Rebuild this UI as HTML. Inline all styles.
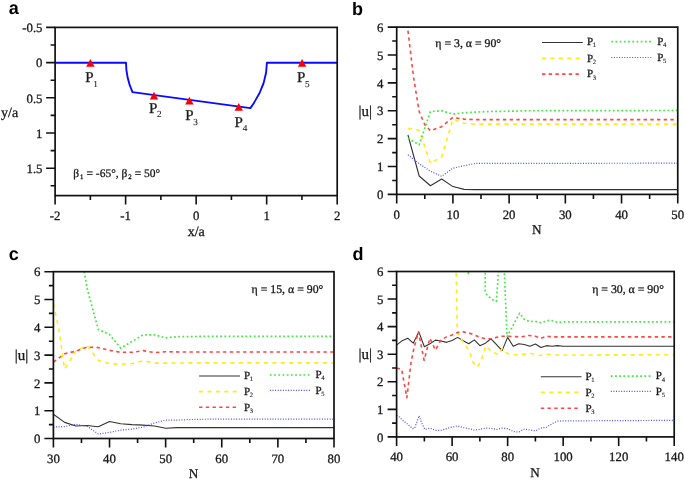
<!DOCTYPE html>
<html><head><meta charset="utf-8"><style>
html,body{margin:0;padding:0;background:#fff;}
svg{display:block;will-change:transform;}
text{text-rendering:geometricPrecision;}
text.pl{font-family:"Liberation Sans",sans-serif;font-weight:bold;fill:#000;}
text{font-family:"Liberation Serif", serif;fill:#1a1a1a;stroke:#1a1a1a;stroke-width:0.3px;}
text.pl{stroke:none;}
tspan.sb{stroke-width:0.1px;}
</style></head><body>
<svg width="685" height="480" viewBox="0 0 685 480">
<rect width="685" height="480" fill="#fff"/>
<clipPath id="ca"><rect x="55.1" y="27.4" width="282.1" height="168.2"/></clipPath>
<clipPath id="cb"><rect x="396.7" y="27.1" width="281.05" height="167.3"/></clipPath>
<clipPath id="cc"><rect x="53.4" y="271.7" width="280.6" height="166.8"/></clipPath>
<clipPath id="cd"><rect x="396.6" y="271.5" width="277.6" height="165.4"/></clipPath>
<text x="8.8" y="14.4" class="pl" font-size="18">a</text>
<path d="M55.25 62.7H126Q126 77.4 132.5 92.1L250.4 108.1Q266.9 85.4 266.9 62.7H337.25" fill="none" stroke="#0a0aff" stroke-width="1.9" stroke-linejoin="round" clip-path="url(#ca)"/>
<rect x="55.1" y="27.4" width="282.1" height="168.2" fill="none" stroke="#111" stroke-width="1.7"/>
<path d="M55.1 195.6v9M125.62 195.6v9M196.15 195.6v9M266.68 195.6v9M337.2 195.6v9M90.36 195.6v4.5M160.89 195.6v4.5M231.41 195.6v4.5M301.94 195.6v4.5" stroke="#111" stroke-width="1.6" fill="none"/>
<text x="55.1" y="220" text-anchor="middle" font-size="12.8">-2</text>
<text x="125.62" y="220" text-anchor="middle" font-size="12.8">-1</text>
<text x="196.15" y="220" text-anchor="middle" font-size="12.8">0</text>
<text x="266.68" y="220" text-anchor="middle" font-size="12.8">1</text>
<text x="337.2" y="220" text-anchor="middle" font-size="12.8">2</text>
<path d="M55.1 27.4h-9M55.1 62.6h-9M55.1 97.8h-9M55.1 133h-9M55.1 168.2h-9M55.1 45h-4.5M55.1 80.2h-4.5M55.1 115.4h-4.5M55.1 150.6h-4.5M55.1 185.8h-4.5" stroke="#111" stroke-width="1.6" fill="none"/>
<text x="42.5" y="32.1" text-anchor="end" font-size="12.8">-0.5</text>
<text x="42.5" y="67.3" text-anchor="end" font-size="12.8">0</text>
<text x="42.5" y="102.5" text-anchor="end" font-size="12.8">0.5</text>
<text x="42.5" y="137.7" text-anchor="end" font-size="12.8">1</text>
<text x="42.5" y="172.9" text-anchor="end" font-size="12.8">1.5</text>
<path d="M90.4 59L94.6 66.8L86.2 66.8Z" fill="#ff0000"/>
<path d="M154 91.8L158.2 99.6L149.8 99.6Z" fill="#ff0000"/>
<path d="M189.4 96.7L193.6 104.5L185.2 104.5Z" fill="#ff0000"/>
<path d="M238.75 102.9L242.95 110.7L234.55 110.7Z" fill="#ff0000"/>
<path d="M302.1 59L306.3 66.8L297.9 66.8Z" fill="#ff0000"/>
<text x="85.3" y="82.2" font-size="15">P<tspan class="sb" font-size="9.2" dx="-0.3" dy="4.4">1</tspan></text>
<text x="149" y="112.5" font-size="15">P<tspan class="sb" font-size="9.2" dx="-0.3" dy="4.4">2</tspan></text>
<text x="185.2" y="120.3" font-size="15">P<tspan class="sb" font-size="9.2" dx="-0.3" dy="4.4">3</tspan></text>
<text x="234.6" y="126.8" font-size="15">P<tspan class="sb" font-size="9.2" dx="-0.3" dy="4.4">4</tspan></text>
<text x="297" y="82.2" font-size="15">P<tspan class="sb" font-size="9.2" dx="-0.3" dy="4.4">5</tspan></text>
<text x="196.25" y="235.6" text-anchor="middle" font-size="14">x/a</text>
<text x="1" y="117" font-size="14">y/a</text>
<text x="73.2" y="177" font-size="11.5">β<tspan font-size="6.8" dx="0.9" dy="2">1</tspan><tspan dy="-2" dx="0.2"> = -65°, β</tspan><tspan font-size="6.8" dx="0.9" dy="2">2</tspan><tspan dy="-2" dx="0.2"> = 50°</tspan></text>
<text x="352" y="14.6" class="pl" font-size="18">b</text>
<polyline points="407.94,135.01 419.18,176 430.43,185.76 441.67,179.06 452.91,186.59 464.15,189.38 475.39,189.66 677.75,189.66" fill="none" stroke="#333" stroke-width="1.1" stroke-linejoin="round" clip-path="url(#cb)"/>
<polyline points="407.94,128.32 419.18,130.27 430.43,163.45 441.67,156.76 452.91,119.12 464.15,123.3 475.39,124.13 677.75,124.13" fill="none" stroke="#ffec14" stroke-width="1.6" stroke-dasharray="4 4.4" stroke-linejoin="round" clip-path="url(#cb)"/>
<polyline points="407.94,30.72 413.56,77.29 419.18,111.59 424.81,124.69 430.43,130.83 441.67,126.64 452.91,117.44 464.15,119.12 475.39,119.67 677.75,119.67" fill="none" stroke="#ff4646" stroke-width="1.6" stroke-dasharray="3.4 3.3" stroke-linejoin="round" clip-path="url(#cb)"/>
<polyline points="407.94,138.35 419.18,144.77 430.43,111.59 441.67,110.75 452.91,114.1 464.15,112.7 486.64,111.59 531.6,110.75 677.75,110.47" fill="none" stroke="#44ea44" stroke-width="1.7" stroke-dasharray="1.8 2.4" stroke-linejoin="round" clip-path="url(#cb)"/>
<polyline points="407.94,154.81 419.18,163.73 430.43,171.26 441.67,176.28 452.91,168.19 464.15,165.68 475.39,163.45 677.75,163.17" fill="none" stroke="#4a4aff" stroke-width="1.2" stroke-dasharray="1 1.6" stroke-linejoin="round" clip-path="url(#cb)"/>
<rect x="396.7" y="27.1" width="281.05" height="167.3" fill="none" stroke="#111" stroke-width="1.7"/>
<path d="M396.7 194.4v9M452.91 194.4v9M509.12 194.4v9M565.33 194.4v9M621.54 194.4v9M677.75 194.4v9M424.81 194.4v4.5M481.01 194.4v4.5M537.23 194.4v4.5M593.43 194.4v4.5M649.64 194.4v4.5" stroke="#111" stroke-width="1.6" fill="none"/>
<text x="396.7" y="219" text-anchor="middle" font-size="12.8">0</text>
<text x="452.91" y="219" text-anchor="middle" font-size="12.8">10</text>
<text x="509.12" y="219" text-anchor="middle" font-size="12.8">20</text>
<text x="565.33" y="219" text-anchor="middle" font-size="12.8">30</text>
<text x="621.54" y="219" text-anchor="middle" font-size="12.8">40</text>
<text x="677.75" y="219" text-anchor="middle" font-size="12.8">50</text>
<path d="M396.7 194.4h-9M396.7 166.52h-9M396.7 138.63h-9M396.7 110.75h-9M396.7 82.87h-9M396.7 54.98h-9M396.7 27.1h-9M396.7 180.46h-4.5M396.7 152.58h-4.5M396.7 124.69h-4.5M396.7 96.81h-4.5M396.7 68.93h-4.5M396.7 41.04h-4.5" stroke="#111" stroke-width="1.6" fill="none"/>
<text x="383.5" y="199.1" text-anchor="end" font-size="12.8">0</text>
<text x="383.5" y="171.22" text-anchor="end" font-size="12.8">1</text>
<text x="383.5" y="143.33" text-anchor="end" font-size="12.8">2</text>
<text x="383.5" y="115.45" text-anchor="end" font-size="12.8">3</text>
<text x="383.5" y="87.57" text-anchor="end" font-size="12.8">4</text>
<text x="383.5" y="59.68" text-anchor="end" font-size="12.8">5</text>
<text x="383.5" y="31.8" text-anchor="end" font-size="12.8">6</text>
<text x="435.3" y="46.9" font-size="11.8">η = 3, α = 90°</text>
<line x1="542" y1="42.45" x2="582.8" y2="42.45" stroke="#333" stroke-width="1.1"/>
<text x="587" y="45.3" font-size="11">P<tspan class="sb" font-size="6.6" dx="-0.3" dy="2.1">1</tspan></text>
<line x1="542" y1="58.4" x2="579.8" y2="58.4" stroke="#ffec14" stroke-width="1.6" stroke-dasharray="4 4.4"/>
<text x="587" y="61.7" font-size="11">P<tspan class="sb" font-size="6.6" dx="-0.3" dy="2.1">2</tspan></text>
<line x1="542" y1="74.1" x2="579.8" y2="74.1" stroke="#ff4646" stroke-width="1.6" stroke-dasharray="3.4 3.3"/>
<text x="587" y="77.4" font-size="11">P<tspan class="sb" font-size="6.6" dx="-0.3" dy="2.1">3</tspan></text>
<line x1="611.3" y1="41.7" x2="652.5" y2="41.7" stroke="#44ea44" stroke-width="1.7" stroke-dasharray="1.8 2.4"/>
<text x="657.2" y="45" font-size="11">P<tspan class="sb" font-size="6.6" dx="-0.3" dy="2.1">4</tspan></text>
<line x1="611.3" y1="57.5" x2="652.5" y2="57.5" stroke="#4a4aff" stroke-width="1.2" stroke-dasharray="1 1.6"/>
<text x="657.2" y="60.8" font-size="11">P<tspan class="sb" font-size="6.6" dx="-0.3" dy="2.1">5</tspan></text>
<text x="536.8" y="234" text-anchor="middle" font-size="13.2">N</text>
<text x="358.5" y="115.5" font-size="15">|u|</text>
<text x="8.8" y="259.7" class="pl" font-size="18">c</text>
<polyline points="53.4,414.31 64.62,422.38 75.85,425.99 87.07,425.43 98.3,426.82 109.52,421.54 120.74,423.77 131.97,424.6 143.19,425.16 154.42,425.99 165.64,428.21 176.86,427.66 334,427.66" fill="none" stroke="#333" stroke-width="1.1" stroke-linejoin="round" clip-path="url(#cc)"/>
<polyline points="53.4,303.67 59.01,330.08 64.62,369 75.85,351.21 87.07,345.37 98.3,360.38 109.52,363.72 120.74,364.27 131.97,363.72 143.19,360.66 154.42,363.16 165.64,363.16 188.09,362.88 334,362.88" fill="none" stroke="#ffec14" stroke-width="1.6" stroke-dasharray="4 4.4" stroke-linejoin="round" clip-path="url(#cc)"/>
<polyline points="53.4,362.05 64.62,353.71 75.85,351.21 87.07,347.04 98.3,347.59 109.52,350.37 120.74,352.32 131.97,352.32 143.19,350.65 154.42,352.6 165.64,351.76 188.09,352.04 334,352.04" fill="none" stroke="#ff4646" stroke-width="1.6" stroke-dasharray="3.4 3.3" stroke-linejoin="round" clip-path="url(#cc)"/>
<polyline points="81.46,255.02 87.07,288.38 98.3,329.52 109.52,334.53 120.74,348.15 131.97,341.48 143.19,334.81 154.42,334.81 165.64,337.86 176.86,336.75 199.31,336.47 334,336.47" fill="none" stroke="#44ea44" stroke-width="1.7" stroke-dasharray="1.8 2.4" stroke-linejoin="round" clip-path="url(#cc)"/>
<polyline points="53.4,427.1 64.62,426.55 75.85,424.32 87.07,426.27 98.3,434.05 109.52,432.38 120.74,430.16 131.97,429.05 143.19,427.1 154.42,422.93 165.64,420.15 176.86,420.15 188.09,419.6 199.31,419.32 221.76,419.04 334,419.04" fill="none" stroke="#4a4aff" stroke-width="1.2" stroke-dasharray="1 1.6" stroke-linejoin="round" clip-path="url(#cc)"/>
<rect x="53.4" y="271.7" width="280.6" height="166.8" fill="none" stroke="#111" stroke-width="1.7"/>
<path d="M53.4 438.5v9M109.52 438.5v9M165.64 438.5v9M221.76 438.5v9M277.88 438.5v9M334 438.5v9M81.46 438.5v4.5M137.58 438.5v4.5M193.7 438.5v4.5M249.82 438.5v4.5M305.94 438.5v4.5" stroke="#111" stroke-width="1.6" fill="none"/>
<text x="53.4" y="462.5" text-anchor="middle" font-size="12.8">30</text>
<text x="109.52" y="462.5" text-anchor="middle" font-size="12.8">40</text>
<text x="165.64" y="462.5" text-anchor="middle" font-size="12.8">50</text>
<text x="221.76" y="462.5" text-anchor="middle" font-size="12.8">60</text>
<text x="277.88" y="462.5" text-anchor="middle" font-size="12.8">70</text>
<text x="334" y="462.5" text-anchor="middle" font-size="12.8">80</text>
<path d="M53.4 438.5h-9M53.4 410.7h-9M53.4 382.9h-9M53.4 355.1h-9M53.4 327.3h-9M53.4 299.5h-9M53.4 271.7h-9M53.4 424.6h-4.5M53.4 396.8h-4.5M53.4 369h-4.5M53.4 341.2h-4.5M53.4 313.4h-4.5M53.4 285.6h-4.5" stroke="#111" stroke-width="1.6" fill="none"/>
<text x="40.5" y="443.2" text-anchor="end" font-size="12.8">0</text>
<text x="40.5" y="415.4" text-anchor="end" font-size="12.8">1</text>
<text x="40.5" y="387.6" text-anchor="end" font-size="12.8">2</text>
<text x="40.5" y="359.8" text-anchor="end" font-size="12.8">3</text>
<text x="40.5" y="332" text-anchor="end" font-size="12.8">4</text>
<text x="40.5" y="304.2" text-anchor="end" font-size="12.8">5</text>
<text x="40.5" y="276.4" text-anchor="end" font-size="12.8">6</text>
<text x="251.6" y="292.7" font-size="11.8">η = 15, α = 90°</text>
<line x1="199.1" y1="375.95" x2="240" y2="375.95" stroke="#333" stroke-width="1.1"/>
<text x="244" y="378.8" font-size="11">P<tspan class="sb" font-size="6.6" dx="-0.3" dy="2.1">1</tspan></text>
<line x1="199.1" y1="391.6" x2="237" y2="391.6" stroke="#ffec14" stroke-width="1.6" stroke-dasharray="4 4.4"/>
<text x="244" y="394.9" font-size="11">P<tspan class="sb" font-size="6.6" dx="-0.3" dy="2.1">2</tspan></text>
<line x1="199.1" y1="407.3" x2="237" y2="407.3" stroke="#ff4646" stroke-width="1.6" stroke-dasharray="3.4 3.3"/>
<text x="244" y="410.6" font-size="11">P<tspan class="sb" font-size="6.6" dx="-0.3" dy="2.1">3</tspan></text>
<line x1="269.9" y1="375" x2="311" y2="375" stroke="#44ea44" stroke-width="1.7" stroke-dasharray="1.8 2.4"/>
<text x="315.5" y="378.3" font-size="11">P<tspan class="sb" font-size="6.6" dx="-0.3" dy="2.1">4</tspan></text>
<line x1="269.9" y1="390.3" x2="311" y2="390.3" stroke="#4a4aff" stroke-width="1.2" stroke-dasharray="1 1.6"/>
<text x="315.5" y="393.6" font-size="11">P<tspan class="sb" font-size="6.6" dx="-0.3" dy="2.1">5</tspan></text>
<text x="193.4" y="478.2" text-anchor="middle" font-size="13.2">N</text>
<text x="14.75" y="359.8" font-size="15">|u|</text>
<text x="352.6" y="260" class="pl" font-size="18">d</text>
<polyline points="396.6,345.1 402.15,340.69 407.7,338.21 413.26,343.17 418.81,331.87 424.36,346.76 429.91,343.72 435.46,340.14 441.02,340.97 446.57,342.35 452.12,340.42 457.67,337.38 463.22,340.69 468.78,343.72 474.33,339.87 479.88,345.65 485.43,343.17 490.98,338.76 496.54,344.55 502.09,350.62 507.64,337.38 513.19,346.21 518.74,343.72 524.3,344.55 529.85,346.21 535.4,344 540.95,347.58 546.5,345.65 552.06,346.21 557.61,345.65 563.16,346.21 674.2,346.21" fill="none" stroke="#333" stroke-width="1.1" stroke-linejoin="round" clip-path="url(#cd)"/>
<polyline points="454.76,188.8 457.23,332.15 461.56,339.87 466.56,346.76 470.3,353.65 472.94,361.92 477.1,367.16 480.99,361.37 484.04,351.44 485.99,345.65 491.54,351.99 498.48,354.48 502.09,348.69 507.64,353.65 514.02,354.75 521.52,354.75 529.85,353.1 539.01,355.58 546.5,354.2 554.83,355.03 674.2,354.75" fill="none" stroke="#ffec14" stroke-width="1.6" stroke-dasharray="4 4.4" stroke-linejoin="round" clip-path="url(#cd)"/>
<polyline points="396.6,368.26 401.6,369.09 406.87,397.76 411.04,362.47 414.09,347.58 418.47,331.87 424.08,360.26 429.91,338.21 435.46,350.06 441.02,339.87 446.57,336.83 452.12,334.9 457.67,332.42 463.22,331.87 468.78,332.97 474.33,334.9 479.88,337.38 485.43,338.76 490.98,338.76 496.54,337.38 502.09,336.28 507.64,336.28 513.19,336.56 521.52,336.83 528.74,335.45 535.4,336.28 540.95,338.21 546.5,336.28 552.06,336.83 674.2,336.83" fill="none" stroke="#ff4646" stroke-width="1.6" stroke-dasharray="3.4 3.3" stroke-linejoin="round" clip-path="url(#cd)"/>
<polyline points="485.21,188.8 485.21,291.35 486.63,294.38 489.54,297.14 493.2,300.17 496.37,301.27 498.53,271.5 500.7,188.8" fill="none" stroke="#44ea44" stroke-width="1.7" stroke-dasharray="1.8 2.4" stroke-linejoin="round" clip-path="url(#cd)"/>
<polyline points="503.2,243.93 504.34,271.5 507.03,336.56 513.19,325.25 519.58,313.13 524.85,320.02 529.85,321.4 537.07,321.67 540.95,322.77 550.11,320.02 557.61,322.5 563.16,321.95 674.2,321.95" fill="none" stroke="#44ea44" stroke-width="1.7" stroke-dasharray="1.8 2.4" stroke-linejoin="round" clip-path="url(#cd)"/>
<polyline points="396.6,415.4 398.54,416.22 402.15,419.81 407.7,424.22 412.7,428.63 414.64,428.08 419.09,415.67 421.58,422.84 424.92,429.46 429.91,428.08 435.46,430.28 441.02,430.28 446.57,428.63 452.12,426.98 457.67,425.87 463.22,427.53 468.78,428.63 474.33,430.01 479.88,429.46 485.43,428.08 490.98,428.35 496.54,429.46 502.09,428.08 507.64,428.63 513.19,431.39 518.74,432.21 524.3,429.18 529.85,430.01 535.4,430.84 540.95,428.08 546.5,427.25 552.06,423.67 557.61,421.19 563.16,420.91 674.2,420.36" fill="none" stroke="#4a4aff" stroke-width="1.2" stroke-dasharray="1 1.6" stroke-linejoin="round" clip-path="url(#cd)"/>
<path d="M468.4 271.8V274.2" stroke="#44ea44" stroke-width="1.7"/>
<rect x="396.6" y="271.5" width="277.6" height="165.4" fill="none" stroke="#111" stroke-width="1.7"/>
<path d="M396.6 436.9v9M452.12 436.9v9M507.64 436.9v9M563.16 436.9v9M618.68 436.9v9M674.2 436.9v9M424.36 436.9v4.5M479.88 436.9v4.5M535.4 436.9v4.5M590.92 436.9v4.5M646.44 436.9v4.5" stroke="#111" stroke-width="1.6" fill="none"/>
<text x="396.6" y="461.3" text-anchor="middle" font-size="12.8">40</text>
<text x="452.12" y="461.3" text-anchor="middle" font-size="12.8">60</text>
<text x="507.64" y="461.3" text-anchor="middle" font-size="12.8">80</text>
<text x="563.16" y="461.3" text-anchor="middle" font-size="12.8">100</text>
<text x="618.68" y="461.3" text-anchor="middle" font-size="12.8">120</text>
<text x="674.2" y="461.3" text-anchor="middle" font-size="12.8">140</text>
<path d="M396.6 436.9h-9M396.6 409.33h-9M396.6 381.77h-9M396.6 354.2h-9M396.6 326.63h-9M396.6 299.07h-9M396.6 271.5h-9M396.6 423.12h-4.5M396.6 395.55h-4.5M396.6 367.98h-4.5M396.6 340.42h-4.5M396.6 312.85h-4.5M396.6 285.28h-4.5" stroke="#111" stroke-width="1.6" fill="none"/>
<text x="383.5" y="441.6" text-anchor="end" font-size="12.8">0</text>
<text x="383.5" y="414.03" text-anchor="end" font-size="12.8">1</text>
<text x="383.5" y="386.47" text-anchor="end" font-size="12.8">2</text>
<text x="383.5" y="358.9" text-anchor="end" font-size="12.8">3</text>
<text x="383.5" y="331.33" text-anchor="end" font-size="12.8">4</text>
<text x="383.5" y="303.77" text-anchor="end" font-size="12.8">5</text>
<text x="383.5" y="276.2" text-anchor="end" font-size="12.8">6</text>
<text x="592.2" y="292.7" font-size="11.8">η = 30, α = 90°</text>
<line x1="540.8" y1="376.75" x2="581.5" y2="376.75" stroke="#333" stroke-width="1.1"/>
<text x="585.5" y="379.6" font-size="11">P<tspan class="sb" font-size="6.6" dx="-0.3" dy="2.1">1</tspan></text>
<line x1="540.8" y1="392.4" x2="578.5" y2="392.4" stroke="#ffec14" stroke-width="1.6" stroke-dasharray="4 4.4"/>
<text x="585.5" y="395.7" font-size="11">P<tspan class="sb" font-size="6.6" dx="-0.3" dy="2.1">2</tspan></text>
<line x1="540.8" y1="408.2" x2="578.5" y2="408.2" stroke="#ff4646" stroke-width="1.6" stroke-dasharray="3.4 3.3"/>
<text x="585.5" y="411.5" font-size="11">P<tspan class="sb" font-size="6.6" dx="-0.3" dy="2.1">3</tspan></text>
<line x1="610.8" y1="376.1" x2="652" y2="376.1" stroke="#44ea44" stroke-width="1.7" stroke-dasharray="1.8 2.4"/>
<text x="655.8" y="379.4" font-size="11">P<tspan class="sb" font-size="6.6" dx="-0.3" dy="2.1">4</tspan></text>
<line x1="610.8" y1="391.4" x2="652" y2="391.4" stroke="#4a4aff" stroke-width="1.2" stroke-dasharray="1 1.6"/>
<text x="655.8" y="394.7" font-size="11">P<tspan class="sb" font-size="6.6" dx="-0.3" dy="2.1">5</tspan></text>
<text x="535.1" y="476.5" text-anchor="middle" font-size="13.2">N</text>
<text x="358.4" y="359.2" font-size="15">|u|</text>
</svg>
</body></html>
